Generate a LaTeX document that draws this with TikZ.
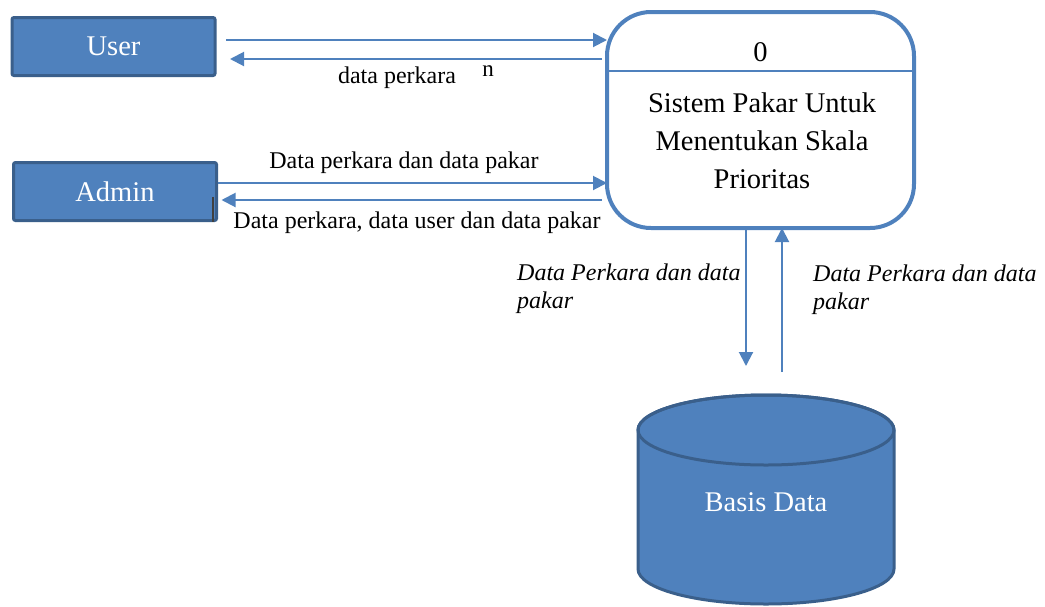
\documentclass[tikz,border=0pt]{standalone}
\usepackage{fontspec}
\setmainfont{Liberation Serif}
\usetikzlibrary{arrows.meta,calc}
\definecolor{boxfill}{HTML}{4F81BD}
\definecolor{boxline}{HTML}{3A5F8B}
\definecolor{flowc}{HTML}{4F81BD}
\begin{document}
\begin{tikzpicture}[x=1pt,y=-1pt,
  ext/.style={draw=boxline, line width=3pt, fill=boxfill, rounded corners=2pt,
    minimum width=203pt, minimum height=58pt, inner sep=0pt, outer sep=0pt,
    text=white, font=\fontsize{28.5}{32}\selectfont},
  procbox/.style={draw=flowc, line width=4pt, rounded corners=44pt,
    minimum width=307pt, minimum height=216pt, inner sep=0pt, outer sep=0pt},
  flow/.style={draw=flowc, line width=2pt, -{Triangle[length=14pt,width=14pt]}},
  lbl/.style={font=\fontsize{24}{28}\selectfont, inner sep=0pt},
  ilbl/.style={font=\fontsize{24}{28}\selectfont\itshape, inner sep=0pt, align=left, anchor=west},
  big/.style={font=\fontsize{28.5}{38}\selectfont, inner sep=0pt, align=center}]
\useasboundingbox (0,0) rectangle (1045,606);
% external entities
\node[ext] (user) at (113.5,46.5) {User};
\node[ext] (admin) at (115,191.5) {Admin};
% process
\node[procbox] (proc) at (760.5,120) {};
\draw[flow, -] (proc.west |- 0,71) coordinate (dl) -- (dl -| proc.east);
\node[big] (num) at (760.5,52) {0};
\node[big] (title) at (762,141) {Sistem Pakar Untuk\\Menentukan Skala\\Prioritas};
% data store
\draw[draw=boxline, fill=boxfill, line width=3pt]
  (638,430) -- (638,569) arc[start angle=180, end angle=0, x radius=128, y radius=35]
  -- (894,430) arc[start angle=0, end angle=-180, x radius=128, y radius=35] -- cycle;
\draw[draw=boxline, line width=3pt] (766,430) ellipse[x radius=128, y radius=35];
\node[text=white, font=\fontsize{28.5}{32}\selectfont, inner sep=0pt] (db) at (766,502) {Basis Data};
% user flows
\draw[flow] ($(user.east)+(11,-6.5)$) coordinate (u1) -- (u1 -| proc.west);
\coordinate (u2) at ($(user.east)+(15,12.5)$);
\draw[flow] ([xshift=-5pt]u2 -| proc.west) -- (u2);
\node[lbl] (lu) at (397,78) {data perkara};
\node[font=\fontsize{23}{26}\selectfont, inner sep=0pt] (ln) at (488,71) {n};
% admin flows
\draw[flow] ($(admin.east)+(1.5,-8.5)$) coordinate (a1) -- (a1 -| proc.west);
\coordinate (a2) at ($(admin.east)+(5,8.5)$);
\draw[flow] ([xshift=-5pt]a2 -| proc.west) -- (a2);
\draw[black!75, line width=1.2pt] ($(admin.south east)+(-3.5,-24)$) -- ++(0,25);
\node[lbl] (la1) at (404,163) {Data perkara dan data pakar};
\node[lbl] (la2) at (417,223) {Data perkara, data user dan data pakar};
% database flows
\draw[flow] ([xshift=-14.5pt]proc.south) -- ++(0,138);
\draw[flow] ($(proc.south)+(21.5,144)$) -- ([xshift=21.5pt]proc.south);
\node[ilbl] (ld1) at (517,289) {Data Perkara dan data\\pakar};
\node[ilbl] (ld2) at (813,290) {Data Perkara dan data\\pakar};
\end{tikzpicture}
\end{document}
